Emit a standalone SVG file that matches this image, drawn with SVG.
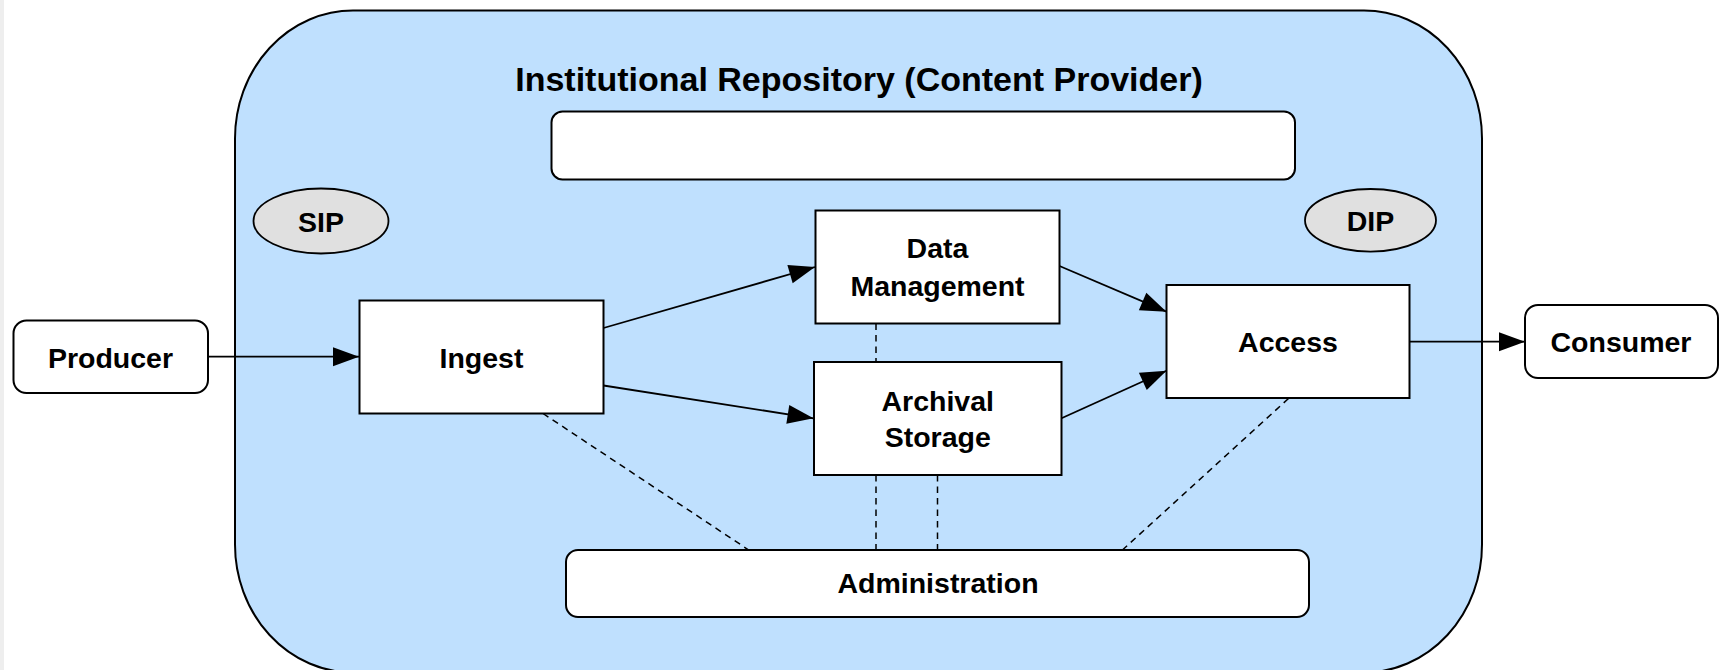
<svg xmlns="http://www.w3.org/2000/svg" width="1727" height="670" viewBox="0 0 1727 670">
  <style>
    .box { fill: #ffffff; stroke: #000000; stroke-width: 2; }
    .pkg { fill: #e0e0e0; stroke: #000000; stroke-width: 1.8; }
    .lbl { font-family: "Liberation Sans", Arial, sans-serif; font-weight: bold; font-size: 28.5px; fill: #000000; text-anchor: middle; }
    .title { font-family: "Liberation Sans", Arial, sans-serif; font-weight: bold; font-size: 34px; fill: #000000; text-anchor: middle; }
    .flow { fill: none; stroke: #000000; stroke-width: 1.8; marker-end: url(#arrow); }
    .link { fill: none; stroke: #000000; stroke-width: 1.5; stroke-dasharray: 6.5 5; }
  </style>
  <defs>
    <marker id="arrow" markerUnits="userSpaceOnUse" markerWidth="27" markerHeight="20" refX="26" refY="10" orient="auto" overflow="visible">
      <path d="M0,0.5 L26,10 L0,19.5 Z" fill="#000000"/>
    </marker>
  </defs>

  <!-- page -->
  <rect x="0" y="0" width="1727" height="670" fill="#ffffff"/>
  <rect x="0" y="0" width="4" height="670" fill="#eeeeee"/>

  <!-- repository boundary -->
  <g id="repository">
    <rect x="235" y="10.5" width="1247" height="662" rx="118" ry="128" fill="#bfe0fe" stroke="#000000" stroke-width="2"/>
    <text class="title" x="859" y="90.5">Institutional Repository (Content Provider)</text>
  </g>

  <g id="banner">
    <rect class="box" x="551.5" y="111.5" width="743.5" height="68" rx="11"/>
  </g>

  <!-- information packages -->
  <g id="sip">
    <ellipse class="pkg" cx="321" cy="221" rx="67.5" ry="32.5"/>
    <text class="lbl" x="321" y="231.5">SIP</text>
  </g>
  <g id="dip">
    <ellipse class="pkg" cx="1370.5" cy="220.3" rx="65.5" ry="31.3"/>
    <text class="lbl" x="1370.5" y="230.5">DIP</text>
  </g>

  <!-- connectors -->
  <g id="connectors">
    <line class="flow" x1="208" y1="356.7" x2="359" y2="356.7"/>
    <line class="flow" x1="603.5" y1="328" x2="815" y2="267"/>
    <line class="flow" x1="603.5" y1="385.5" x2="813.5" y2="418.3"/>
    <line class="flow" x1="1059.5" y1="266" x2="1166.5" y2="311.7"/>
    <line class="flow" x1="1061.5" y1="418.3" x2="1166.5" y2="370.7"/>
    <line class="flow" x1="1409" y1="341.7" x2="1525" y2="341.7"/>

    <line class="link" x1="876" y1="323.5" x2="876" y2="361.5"/>
    <line class="link" x1="543" y1="413.5" x2="748" y2="549.5"/>
    <line class="link" x1="876" y1="475" x2="876" y2="549.5"/>
    <line class="link" x1="937.5" y1="475" x2="937.5" y2="549.5"/>
    <line class="link" x1="1288.5" y1="398.5" x2="1123" y2="549.5"/>
  </g>

  <!-- external entities -->
  <g id="producer">
    <rect class="box" x="13.5" y="320.5" width="194.5" height="72.5" rx="13"/>
    <text class="lbl" x="110.5" y="368">Producer</text>
  </g>
  <g id="consumer">
    <rect class="box" x="1525" y="305" width="193" height="73" rx="13"/>
    <text class="lbl" x="1621" y="351.7">Consumer</text>
  </g>

  <!-- functional entities -->
  <g id="ingest">
    <rect class="box" x="359.5" y="300.5" width="244" height="113"/>
    <text class="lbl" x="481.5" y="367.5">Ingest</text>
  </g>
  <g id="data-management">
    <rect class="box" x="815.5" y="210.5" width="244" height="113"/>
    <text class="lbl" x="937.5" y="258.3">Data</text>
    <text class="lbl" x="937.5" y="296">Management</text>
  </g>
  <g id="archival-storage">
    <rect class="box" x="814" y="362" width="247.5" height="113"/>
    <text class="lbl" x="937.7" y="410.7">Archival</text>
    <text class="lbl" x="937.7" y="447">Storage</text>
  </g>
  <g id="access">
    <rect class="box" x="1166.5" y="285" width="243" height="113"/>
    <text class="lbl" x="1288" y="351.7">Access</text>
  </g>
  <g id="administration">
    <rect class="box" x="566" y="550" width="743" height="67" rx="12"/>
    <text class="lbl" x="938" y="593.3">Administration</text>
  </g>
</svg>
